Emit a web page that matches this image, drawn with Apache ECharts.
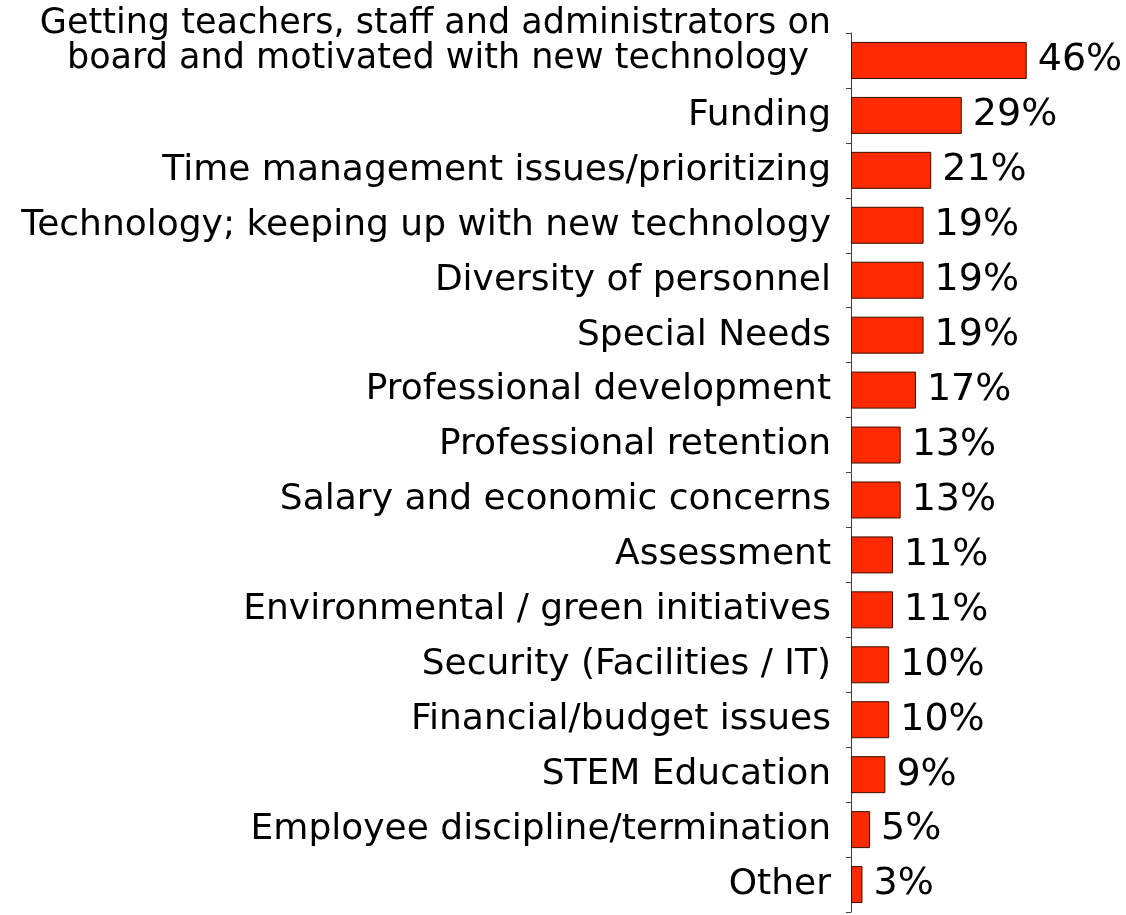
<!DOCTYPE html>
<html>
<head>
<meta charset="utf-8">
<script src="https://cdn.jsdelivr.net/npm/echarts@6/dist/echarts.min.js"></script>
<style>
html,body{margin:0;padding:0;background:#fff;}
#chart{width:1126px;height:915px;}
</style>
</head>
<body>
<div id="chart"></div>
<script>
const categories = [
  "Getting teachers, staff and administrators on\nboard and motivated with new technology",
  "Funding",
  "Time management issues/prioritizing",
  "Technology; keeping up with new technology",
  "Diversity of personnel",
  "Special Needs",
  "Professional development",
  "Professional retention",
  "Salary and economic concerns",
  "Assessment",
  "Environmental / green initiatives",
  "Security (Facilities / IT)",
  "Financial/budget issues",
  "STEM Education",
  "Employee discipline/termination",
  "Other"
];
const values = [46, 29, 21, 19, 19, 19, 17, 13, 13, 11, 11, 10, 10, 9, 5, 3];

const chart = echarts.init(document.getElementById('chart'), null, {renderer: 'canvas'});
chart.setOption({
  animation: false,
  backgroundColor: '#ffffff',
  grid: {left: 851, top: 33, bottom: 3, width: 191, containLabel: false},
  xAxis: {
    type: 'value', min: 0, max: 50, show: false
  },
  yAxis: {
    type: 'category',
    data: categories,
    inverse: true,
    axisLine: {show: true, lineStyle: {color: '#4a3a30', width: 1}},
    axisTick: {show: true, length: 5, lineStyle: {color: '#4a3a30'}},
    splitLine: {show: false},
    axisLabel: {
      interval: 0,
      hideOverlap: false,
      margin: 20,
      color: '#000',
      fontFamily: 'DejaVu Sans',
      fontSize: 36,
      formatter: function (v) {
        if (v.indexOf('\n') >= 0) {
          const p = v.split('\n');
          return '{a|' + p[0] + '}\n{b|' + p[1] + '}\n{c| }';
        }
        return v;
      },
      rich: {
        a: {fontFamily: 'DejaVu Sans', fontSize: 35, lineHeight: 35, color: '#000', align: 'right'},
        b: {fontFamily: 'DejaVu Sans', fontSize: 35, lineHeight: 35, color: '#000', align: 'right', padding: [0, 22, 0, 0]},
        c: {fontSize: 10, lineHeight: 39, align: 'right'}
      }
    }
  },
  series: [{
    type: 'bar',
    data: values,
    barWidth: 37,
    itemStyle: {color: '#ff2a00', borderColor: '#3a1000', borderWidth: 1},
    label: {
      show: true,
      position: 'right',
      distance: 11,
      formatter: '{c}%',
      color: '#000',
      fontFamily: 'DejaVu Sans',
      fontSize: 38
    }
  }]
});
</script>
</body>
</html>
